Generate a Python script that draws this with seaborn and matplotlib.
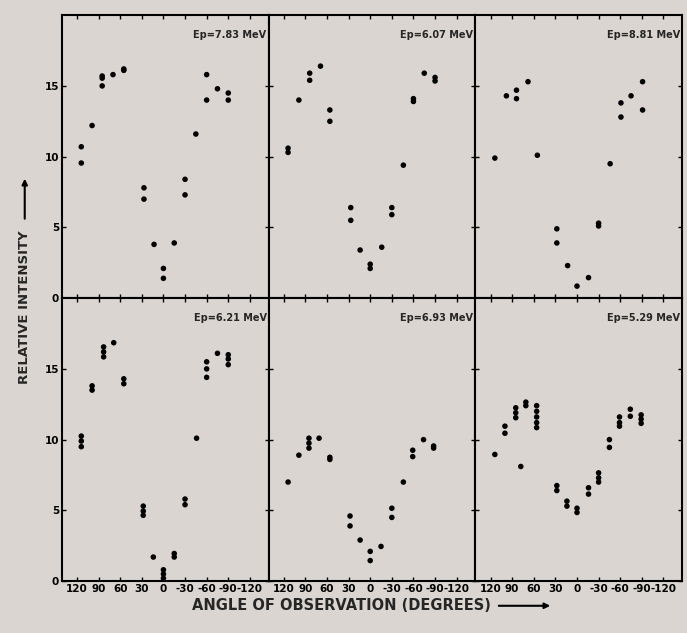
import pandas as pd
import matplotlib
matplotlib.use("Agg")
import matplotlib.pyplot as plt
import seaborn as sns

# panel labels (proton energy)
energies = ["Ep=7.83 MeV", "Ep=6.07 MeV", "Ep=8.81 MeV",
            "Ep=6.21 MeV", "Ep=6.93 MeV", "Ep=5.29 MeV"]

x_ticks = [120, 90, 60, 30, 0, -30, -60, -90, -120]
y_ticks = [0, 5, 10, 15]

# angle of observation (deg) and relative intensity
angle_783 = [114, 114, 99, 85, 85, 85, 70, 55, 55, 27, 27, 13, 0, 0, -15, -30, -30, -45, -60, -60, -75, -90, -90]
inten_783 = [10.7, 9.55, 12.2, 15.7, 15.55, 15.0, 15.8, 16.2, 16.1, 7.8, 7.0, 3.8, 2.1, 1.4, 3.9, 8.4, 7.3, 11.6, 15.8, 14.0, 14.8, 14.5, 14.0]

angle_607 = [114, 114, 99, 84, 84, 69, 56, 56, 27, 27, 14, 0, 0, -16, -30, -30, -46, -60, -60, -75, -90, -90]
inten_607 = [10.6, 10.3, 14.0, 15.9, 15.4, 16.4, 13.3, 12.5, 6.4, 5.5, 3.4, 2.4, 2.1, 3.6, 6.4, 5.9, 9.4, 14.1, 13.9, 15.9, 15.6, 15.35]

angle_881 = [114, 98, 84, 84, 68, 55, 28, 28, 13, 0, -16, -30, -30, -46, -61, -61, -75, -91, -91]
inten_881 = [9.9, 14.3, 14.7, 14.1, 15.3, 10.1, 4.9, 3.9, 2.3, 0.85, 1.45, 5.3, 5.1, 9.5, 13.8, 12.8, 14.3, 15.3, 13.3]

angle_621 = [114, 114, 114, 99, 99, 83, 83, 83, 69, 55, 55, 28, 28, 28, 14, 0, 0, 0,
             -15, -15, -30, -30, -46, -60, -60, -60, -75, -90, -90, -90]
inten_621 = [10.25, 9.9, 9.5, 13.8, 13.5, 16.55, 16.2, 15.85, 16.85, 14.3, 13.95, 5.3, 4.95, 4.65, 1.7, 0.8, 0.5, 0.2,
             1.95, 1.7, 5.8, 5.4, 10.1, 15.5, 15.0, 14.4, 16.1, 16.0, 15.7, 15.3]

angle_693 = [114, 99, 85, 85, 85, 71, 56, 56, 28, 28, 14, 0, 0, -15, -30, -30, -46, -59, -59, -74, -88, -88]
inten_693 = [7.0, 8.9, 10.1, 9.75, 9.4, 10.1, 8.75, 8.6, 4.6, 3.9, 2.9, 2.1, 1.45, 2.45, 5.15, 4.5, 7.0, 9.25, 8.8, 10.0, 9.55, 9.4]

angle_529 = [114, 100, 100, 85, 85, 85, 78, 71, 71, 56, 56, 56, 56, 56, 28, 28, 14, 14, 0, 0,
             -16, -16, -30, -30, -30, -45, -45, -59, -59, -59, -74, -74, -89, -89, -89]
inten_529 = [8.95, 10.95, 10.45, 12.25, 11.9, 11.55, 8.1, 12.65, 12.4, 12.4, 12.0, 11.6, 11.2, 10.85, 6.75, 6.4, 5.65, 5.3, 5.15, 4.85,
             6.6, 6.15, 7.65, 7.3, 7.0, 10.0, 9.45, 11.6, 11.2, 10.95, 12.15, 11.65, 11.75, 11.45, 11.15]

angles = [angle_783, angle_607, angle_881, angle_621, angle_693, angle_529]
intens = [inten_783, inten_607, inten_881, inten_621, inten_693, inten_529]

df = pd.concat([pd.DataFrame({"panel": e, "angle": a, "intensity": i})
                for e, a, i in zip(energies, angles, intens)], ignore_index=True)

bg = "#dad5d0"
sns.set_style("ticks")
plt.rcParams["font.family"] = ["DejaVu Sans"]
plt.rcParams["axes.unicode_minus"] = False
plt.rcParams["figure.facecolor"] = bg
plt.rcParams["axes.facecolor"] = bg

g = sns.FacetGrid(df, col="panel", col_wrap=3, col_order=energies,
                  sharex=True, sharey=True, height=3, aspect=0.75, despine=False)
g.map_dataframe(sns.scatterplot, x="angle", y="intensity",
                color="black", s=16, edgecolor="none")
g.set_titles("")
g.set_axis_labels("", "")

for ax, e in zip(g.axes.flat, energies):
    ax.set_xlim(141, -146)
    ax.set_ylim(0, 20)
    ax.set_xticks(x_ticks)
    ax.set_yticks(y_ticks)
    ax.tick_params(direction="in", length=3, width=1, top=True, right=True,
                   labelsize=7.5, pad=2, colors="black")
    for lab in ax.get_xticklabels() + ax.get_yticklabels():
        lab.set_fontweight("bold")
    for sp in ax.spines.values():
        sp.set_linewidth(1.5)
        sp.set_color("black")
    ax.text(0.99, 0.93, e, transform=ax.transAxes, ha="right", va="center",
            fontsize=7, fontweight="bold")

fig = g.figure
fig.set_size_inches(6.87, 6.33)
fig.subplots_adjust(left=0.090, right=0.993, top=0.976, bottom=0.082,
                    wspace=0, hspace=0)

fig.text(0.497, 0.043, "ANGLE OF OBSERVATION (DEGREES)", ha="center", va="center",
         fontsize=10.5, fontweight="bold")
fig.text(0.036, 0.515, "RELATIVE INTENSITY", rotation=90, ha="center", va="center",
         fontsize=9.5, fontweight="bold")
# arrows after the axis labels
fig.add_artist(matplotlib.patches.FancyArrowPatch((0.722, 0.043), (0.805, 0.043),
               transform=fig.transFigure, arrowstyle="-|>", mutation_scale=8,
               color="black", lw=1.5))
fig.add_artist(matplotlib.patches.FancyArrowPatch((0.036, 0.650), (0.036, 0.722),
               transform=fig.transFigure, arrowstyle="-|>", mutation_scale=8,
               color="black", lw=1.5))

fig.savefig("out.png", dpi=100, facecolor=bg)
